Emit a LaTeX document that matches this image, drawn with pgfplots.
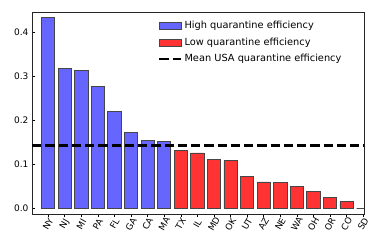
\documentclass[border=0pt]{standalone}
\usepackage{pgfplots}
\pgfplotsset{compat=1.18}
\usepackage{fontspec}
\setmainfont{DejaVu Sans}
\definecolor{hiblue}{RGB}{102,102,255}
\definecolor{lored}{RGB}{255,51,51}
\definecolor{edgegray}{RGB}{70,70,70}
\pgfplotsset{
  barlegend/.style={legend image code/.code={\draw[#1] (0pt,-3.5pt) rectangle (22pt,3.5pt);}},
  linelegend/.style={legend image code/.code={\draw[#1] (0pt,0pt) -- (22pt,0pt);}},
}
\begin{document}
\begin{tikzpicture}
\begin{axis}[
  name=ax,
  at={(0,0)}, anchor=south west,
  scale only axis,
  width=332pt, height=201.7pt,
  xmin=-0.975, xmax=19.05,
  ymin=-0.013, ymax=0.446,
  axis line style={line width=0.8pt, black!85},
  tick align=inside,
  xtick pos=bottom, ytick pos=left,
  major tick length=3pt,
  tick style={black, line width=0.6pt},
  xtick={0,...,19},
  xticklabels={NY,NJ,MI,PA,FL,GA,CA,MA,TX,IL,MD,OK,UT,AZ,NE,WA,OH,OR,CO,SD},
  xticklabel style={yshift=-7pt, rotate=60, anchor=center, font=\fontsize{8.8}{10}\selectfont},
  ytick={0,0.1,0.2,0.3,0.4},
  yticklabel style={/pgf/number format/.cd, fixed, fixed zerofill, precision=1, assume math mode=true, /tikz/.cd, font=\fontsize{9}{10}\selectfont},
  ybar, bar width=0.8, bar shift=0pt,
  legend style={at={(0.37,0.975)}, anchor=north west, draw=none, fill=none,
    font=\fontsize{9.8}{11}\selectfont, row sep=3.5pt,
    /tikz/every even column/.append style={column sep=7pt}},
  legend cell align=left,
]
\addplot[fill=hiblue, draw=edgegray, line width=0.8pt, barlegend]
  coordinates {(0,0.434) (1,0.319) (2,0.314) (3,0.277) (4,0.220) (5,0.173) (6,0.155) (7,0.152)};
\addlegendentry{High quarantine efficiency}
\addplot[fill=lored, draw=edgegray, line width=0.8pt, barlegend]
  coordinates {(8,0.132) (9,0.126) (10,0.111) (11,0.108) (12,0.073) (13,0.060) (14,0.058) (15,0.050) (16,0.039) (17,0.025) (18,0.016) (19,0.0)};
\addlegendentry{Low quarantine efficiency}
\addplot[sharp plot, black, line width=2.5pt, dash pattern=on 9.25pt off 4pt, linelegend]
  coordinates {(-0.975,0.1425) (19.05,0.1425)};
\addlegendentry{Mean USA quarantine efficiency}
\end{axis}
\pgfresetboundingbox
\path (-32pt,-35pt) rectangle (342pt,214pt);
\end{tikzpicture}
\end{document}
